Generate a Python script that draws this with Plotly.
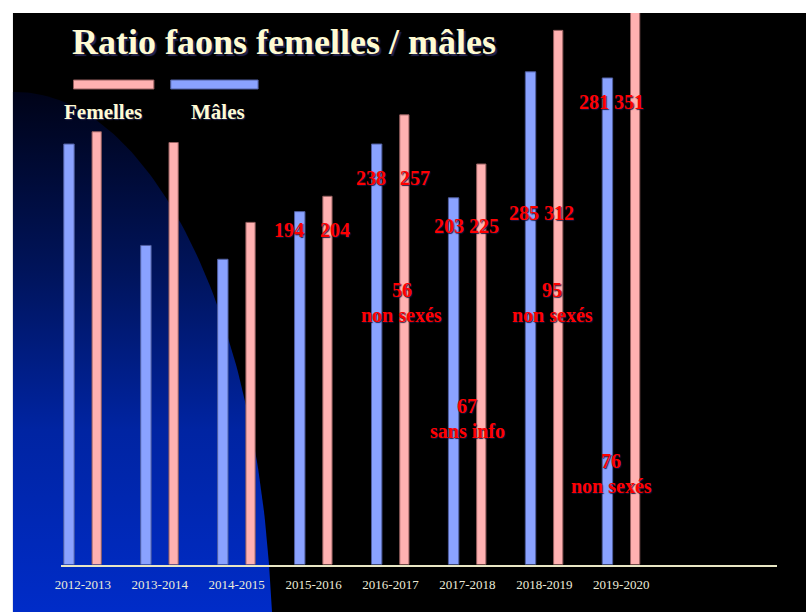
import numpy as np
import plotly.graph_objects as go

W, H = 806, 612

# Fawn counts per season
seasons = ["2012-2013", "2013-2014", "2014-2015", "2015-2016",
           "2016-2017", "2017-2018", "2018-2019", "2019-2020"]
males = [238, 172, 163, 194, 238, 203, 285, 281]
females = [246, 239, 187, 204, 257, 225, 312, 351]
n_unlabelled = 3  # first seasons carry no printed counts

# Fawns whose sex was not recorded
extra_seasons = ["2016-2017", "2017-2018", "2018-2019", "2019-2020"]
extra_counts = [56, 67, 95, 76]
extra_notes = ["non sexés", "sans info", "non sexés", "non sexés"]

# value axis: the baseline sits below zero, top cut by the slide edge
Y_FLOOR, Y_TOP = -35.7, 323.3

BLUE, PINK = "#8aa2ff", "#ffb1b1"
CREAM = "#fffbd2"
RED = "#ff0000"
SERIF = "Liberation Serif"


def px(x):
    return x / W


def py(y):
    return 1 - y / H


fig = go.Figure()

# decorative blue glow on the left of the slide (pixel-space axes)
t = np.linspace(0, 2 * np.pi, 400)
ex = np.clip(10 + 258 * np.cos(t), 7, W)
ey = np.clip(650 + 558 * np.sin(t), 0, H)
fig.add_trace(go.Scatter(
    x=ex, y=ey, mode="lines", fill="toself", line=dict(width=0),
    fillgradient=dict(type="vertical", start=92, stop=612,
                      colorscale=[[0, "rgb(0,3,24)"], [0.35, "rgb(0,20,92)"],
                                  [0.65, "rgb(0,36,162)"], [1, "rgb(0,44,200)"]]),
    hoverinfo="skip", showlegend=False, xaxis="x", yaxis="y"))

fig.add_trace(go.Bar(
    name="Mâles", x=seasons, y=[v - Y_FLOOR for v in males], base=Y_FLOOR,
    width=0.135, offset=-0.2475,
    marker=dict(color=BLUE, line=dict(color="rgb(80,95,160)", width=1)),
    customdata=males, hovertemplate="%{x}: %{customdata}<extra>Mâles</extra>",
    xaxis="x2", yaxis="y2", showlegend=False))
fig.add_trace(go.Bar(
    name="Femelles", x=seasons, y=[v - Y_FLOOR for v in females], base=Y_FLOOR,
    width=0.12, offset=0.12,
    marker=dict(color=PINK, line=dict(color="rgb(150,95,95)", width=1)),
    customdata=females, hovertemplate="%{x}: %{customdata}<extra>Femelles</extra>",
    xaxis="x2", yaxis="y2", showlegend=False))

shadow = "1px 1px 1px rgba(20,20,60,0.9)"
ann = []


def red(text, season, dx, ypix):
    ann.append(dict(text=text, x=season, xref="x2", xshift=dx,
                    y=py(ypix), yref="paper", yanchor="middle",
                    showarrow=False,
                    font=dict(family=SERIF, size=20, color=RED, weight="bold",
                              shadow=shadow)))


# printed counts next to the bars
label_layout = {
    "2015-2016": [(-25, 230, "m"), (21, 230, "f")],
    "2016-2017": [(-20, 178, "m"), (24, 178, "f")],
    "2017-2018": [(-18, 226, "m"), (17, 226, "f")],
    "2018-2019": [(-3, 213, "mf")],
    "2019-2020": [(-10, 102, "mf")],
}
for i, s in enumerate(seasons[n_unlabelled:], start=n_unlabelled):
    for dx, ypix, kind in label_layout[s]:
        txt = {"m": f"{males[i]}", "f": f"{females[i]}",
               "mf": f"{males[i]} {females[i]}"}[kind]
        red(txt, s, dx, ypix)

extra_layout = {"2016-2017": (11, 290), "2017-2018": (0, 406),
                "2018-2019": (8, 290), "2019-2020": (-10, 461)}
for s, c, note in zip(extra_seasons, extra_counts, extra_notes):
    dx, ypix = extra_layout[s]
    red(str(c), s, dx, ypix)
    red(note, s, dx, ypix + 25)

# title and hand-drawn legend
ann.append(dict(text="Ratio faons femelles / mâles", x=px(64), xanchor="left",
                y=py(42), yanchor="middle", xref="paper", yref="paper",
                showarrow=False,
                font=dict(family=SERIF, size=36, color=CREAM, weight="bold",
                          shadow="2px 2px 1px rgba(40,40,90,0.9)")))
for txt, cx in [("Femelles", 97.5), ("Mâles", 213.5)]:
    ann.append(dict(text=txt, x=px(cx), y=py(112), xref="paper", yref="paper",
                    xanchor="center", yanchor="middle", showarrow=False,
                    font=dict(family=SERIF, size=21, color=CREAM, weight="bold",
                              shadow="1px 1px 1px rgba(40,40,90,0.9)")))

shapes = [
    # slide area
    dict(type="rect", xref="paper", yref="paper", x0=px(7), x1=1, y0=0, y1=py(13),
         fillcolor="black", line=dict(width=0), layer="below"),
    # legend swatches
    dict(type="rect", xref="paper", yref="paper", x0=px(68), x1=px(149),
         y0=py(89), y1=py(80), fillcolor=PINK,
         line=dict(color="rgb(150,95,95)", width=1)),
    dict(type="rect", xref="paper", yref="paper", x0=px(166), x1=px(254),
         y0=py(89), y1=py(80), fillcolor=BLUE,
         line=dict(color="rgb(80,95,160)", width=1)),
]

fig.update_layout(
    width=W, height=H, margin=dict(l=0, r=0, t=0, b=0),
    paper_bgcolor="white", plot_bgcolor="rgba(0,0,0,0)",
    barmode="overlay", showlegend=False,
    xaxis=dict(domain=[0, 1], range=[0, W], visible=False, fixedrange=True),
    yaxis=dict(domain=[0, 1], range=[H, 0], visible=False, fixedrange=True),
    xaxis2=dict(domain=[px(55), px(777)], range=[-0.289, 9.027],
                anchor="y2", showgrid=False, zeroline=False,
                showline=True, linecolor="#e8e6c4", linewidth=2,
                ticks="", ticklabelstandoff=7,
                tickfont=dict(family=SERIF, size=13, color="#ecebd8")),
    yaxis2=dict(domain=[py(564.5), py(13)], range=[Y_FLOOR, Y_TOP],
                anchor="x2", visible=False),
    annotations=ann, shapes=shapes,
)

fig.write_html("out.html")
